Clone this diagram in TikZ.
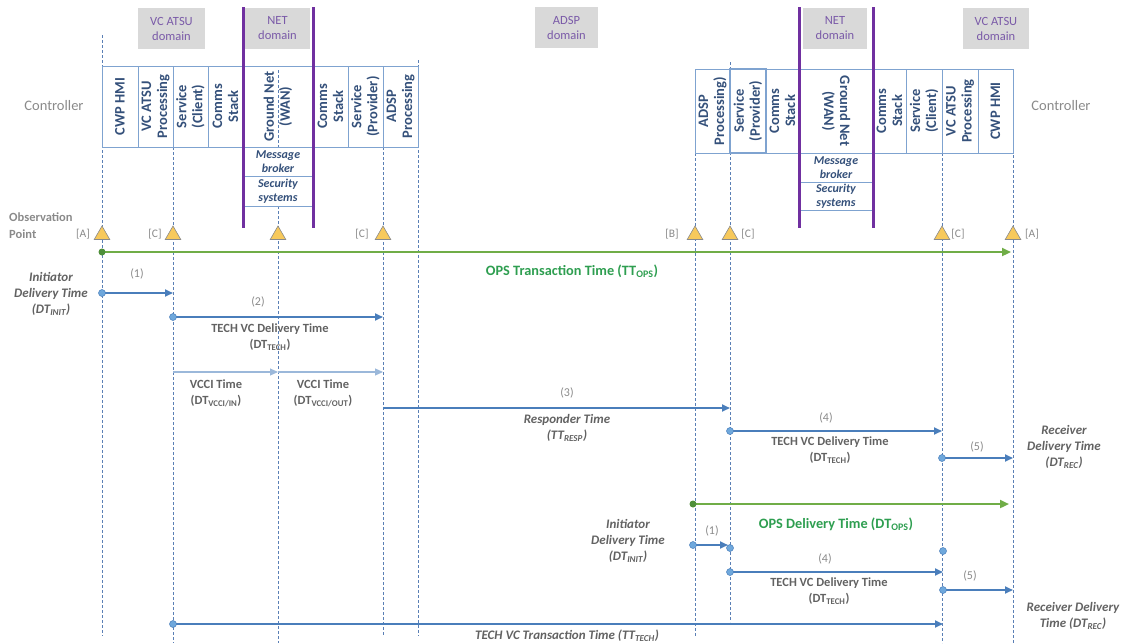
\documentclass[tikz,border=0pt]{standalone}
\usepackage{fontspec}
\setmainfont{Carlito}
\usetikzlibrary{arrows.meta,shapes.geometric}
\definecolor{lifeblue}{HTML}{5A7FB5}
\definecolor{arrblue}{HTML}{4A7EBB}
\definecolor{dotblue}{HTML}{6FA8DC}
\definecolor{opsgreen}{HTML}{70AD47}
\definecolor{opsdot}{HTML}{4E8F3A}
\definecolor{opstext}{HTML}{2E9E50}
\definecolor{netpurple}{HTML}{7030A0}
\definecolor{domtext}{HTML}{7A5AA8}
\definecolor{domfill}{HTML}{D9D9D9}
\definecolor{tabline}{HTML}{7FA3D0}
\definecolor{tabtext}{HTML}{34507A}
\definecolor{lblgray}{HTML}{626262}
\definecolor{ltgray}{HTML}{8A8A8A}
\definecolor{trifill}{HTML}{F7C95C}
\begin{document}
\begin{tikzpicture}[x=1pt,y=-1pt,
  lifeline/.style={draw=lifeblue, dash pattern=on 3pt off 2pt, line width=0.6pt},
  msg/.style={draw=arrblue, line width=1.8pt, -{Triangle[length=8pt,width=7pt]}},
  vcci/.style={draw=arrblue!55, line width=1.1pt, -{Triangle[length=8pt,width=7pt]}},
  opsarr/.style={draw=opsgreen, line width=2.2pt, -{Triangle[length=9pt,width=8pt]}},
  col/.style={draw=tabline, line width=0.8pt, inner sep=0pt, text=tabtext,
     font=\fontsize{14.5}{16}\selectfont\bfseries, align=center},
  broker/.style={draw=tabline, line width=0.8pt, inner sep=0pt, text=tabtext,
     font=\fontsize{12}{13.5}\selectfont\bfseries\itshape, align=center,
     minimum width=70pt},
  dombox/.style={fill=domfill, text=domtext, inner sep=0pt, align=center,
     font=\fontsize{12.5}{15}\selectfont, minimum height=41pt},
  obs/.style={regular polygon, regular polygon sides=3, minimum size=18pt,
     inner sep=0pt, fill=trifill, draw=ltgray, line width=0.6pt},
  obslbl/.style={text=ltgray, font=\fontsize{11.5}{13}\selectfont, inner sep=0pt},
  num/.style={text=ltgray, font=\fontsize{12}{13}\selectfont, inner sep=0pt},
  lbl/.style={text=lblgray, font=\fontsize{12.5}{16}\selectfont\bfseries, align=center, inner sep=0pt},
  ilbl/.style={text=lblgray, font=\fontsize{13}{16}\selectfont\bfseries\itshape, align=center, inner sep=0pt},
  opslbl/.style={text=opstext, font=\fontsize{14.3}{16}\selectfont\bfseries, inner sep=0pt},
  ctrl/.style={text=ltgray, font=\fontsize{14.5}{17}\selectfont, inner sep=0pt},
  bdot/.style={fill=dotblue, draw=arrblue, line width=0.5pt},
  gdot/.style={fill=opsdot}
]
\useasboundingbox (0,0) rectangle (1122,643);

% ---------------- lifelines ----------------
\draw[lifeline] (102,35) coordinate (l1t) -- (102,636) coordinate (l1b);
\draw[lifeline] (173,147) coordinate (l2t) -- (173,643) coordinate (l2b);
\draw[lifeline] (278,70) coordinate (l3t) -- (278,147) coordinate (l3m);
\draw[lifeline] (278,206) coordinate (l3n) -- (278,643) coordinate (l3b);
\draw[lifeline] (383,147) coordinate (l4t) -- (383,636) coordinate (l4b);
\draw[lifeline] (418,60) coordinate (l5t) -- (418,636) coordinate (l5b);
\draw[lifeline] (695,153) coordinate (r1t) -- (695,636) coordinate (r1b);
\draw[lifeline] (730,62) coordinate (r2t) -- (730,622) coordinate (r2b);
\draw[lifeline] (942,153) coordinate (r3t) -- (942,643) coordinate (r3b);
\draw[lifeline] (1013,100) coordinate (r4t) -- (1013,643) coordinate (r4b);

% ---------------- domain boxes ----------------
\node[dombox, minimum width=67pt] (dvcL) at (171.5,28.5) {VC ATSU\\domain};
\node[dombox, minimum width=65pt] (dnetL) at (277.5,28.5) {NET\\domain};
\node[dombox, minimum width=63pt] (dadsp) at (566.5,27.5) {ADSP\\domain};
\node[dombox, minimum width=64pt] (dnetR) at (835,28.5) {NET\\domain};
\node[dombox, minimum width=66pt] (dvcR) at (996,28.5) {VC ATSU\\domain};

% ---------------- left table ----------------
\node[col, rotate=90, minimum width=81pt, minimum height=36pt] (L1) at (120,106.5) {CWP HMI};
\node[col, rotate=90, minimum width=81pt, minimum height=35pt] (L2) at (155.5,106.5) {VC ATSU\\Processing};
\node[col, rotate=90, minimum width=81pt, minimum height=35pt] (L3) at (190.5,106.5) {Service\\(Client)};
\node[col, rotate=90, minimum width=81pt, minimum height=35pt] (L4) at (225.5,106.5) {Comms\\Stack};
\node[col, rotate=90, minimum width=81pt, minimum height=70pt] (L5) at (278,106.5) {Ground Net\\(WAN)};
\node[col, rotate=90, minimum width=81pt, minimum height=35pt] (L6) at (330.5,106.5) {Comms\\Stack};
\node[col, rotate=90, minimum width=81pt, minimum height=35pt] (L7) at (365.5,106.5) {Service\\(Provider)};
\node[col, rotate=90, minimum width=81pt, minimum height=35pt] (L8) at (400.5,106.5) {ADSP\\Processing};
\node[broker, fill=white, minimum height=29pt] (LB1) at (278,161.5) {Message\\broker};
\node[broker, fill=white, minimum height=30pt] (LB2) at (278,191) {Security\\systems};

% ---------------- right table ----------------
\node[col, rotate=90, minimum width=84pt, minimum height=35pt] (R1) at (712.5,111) {ADSP\\Processing)};
\node[col, rotate=90, minimum width=84pt, minimum height=36pt, line width=1.2pt] (R2) at (748,111) {Service\\(Provider)};
\node[col, rotate=90, minimum width=84pt, minimum height=33pt] (R3) at (782.5,111) {Comms\\Stack};
\node[col, rotate=-90, minimum width=84pt, minimum height=74pt] (R4) at (836,111) {Ground Net\\(WAN)};
\node[col, rotate=90, minimum width=84pt, minimum height=33pt] (R5) at (889.5,111) {Comms\\Stack};
\node[col, rotate=90, minimum width=84pt, minimum height=36pt] (R6) at (924,111) {Service\\(Client)};
\node[col, rotate=90, minimum width=84pt, minimum height=36pt] (R7) at (960,111) {VC ATSU\\Processing};
\node[col, rotate=90, minimum width=84pt, minimum height=35pt] (R8) at (995.5,111) {CWP HMI};
\node[broker, fill=white, minimum width=74pt, minimum height=29pt] (RB1) at (836,167.5) {Message\\broker};
\node[broker, fill=white, minimum width=74pt, minimum height=28pt] (RB2) at (836,196) {Security\\systems};

% ---------------- NET purple boundaries ----------------
\draw[netpurple, line width=3pt] (243,7) coordinate (pL1t) -- (243,228) coordinate (pL1b);
\draw[netpurple, line width=3pt] (313,7) coordinate (pL2t) -- (313,228) coordinate (pL2b);
\draw[netpurple, line width=3pt] (799,7) coordinate (pR1t) -- (799,228) coordinate (pR1b);
\draw[netpurple, line width=3pt] (873,7) coordinate (pR2t) -- (873,228) coordinate (pR2b);

% ---------------- Controller labels ----------------
\node[ctrl] (ctrlL) at (54,106) {Controller};
\node[ctrl] (ctrlR) at (1061,106) {Controller};

% ---------------- observation points ----------------
\node[text=ltgray, font=\fontsize{12.5}{17}\selectfont\bfseries, align=left, anchor=west, inner sep=0pt] (obsT) at (9,226) {Observation\\Point};
\node[obs] (o1) at (102,235) {};
\node[obs] (o2) at (173,235) {};
\node[obs] (o3) at (278,235) {};
\node[obs] (o4) at (383,235) {};
\node[obs] (o5) at (695,235) {};
\node[obs] (o6) at (730,235) {};
\node[obs] (o7) at (942,235) {};
\node[obs] (o8) at (1013,235) {};
\node[obslbl] (oA1) at (83,234) {[A]};
\node[obslbl] (oC1) at (155,234) {[C]};
\node[obslbl] (oC2) at (362,234) {[C]};
\node[obslbl] (oB1) at (672,234) {[B]};
\node[obslbl] (oC3) at (748,234) {[C]};
\node[obslbl] (oC4) at (958,234) {[C]};
\node[obslbl] (oA2) at (1032,234) {[A]};

% ---------------- OPS transaction time ----------------
\coordinate (g1s) at (102,252);
\coordinate (g1e) at (1011,252);
\draw[opsarr] (g1s) -- (g1e);
\fill[gdot] (g1s) circle (3.5pt);
\node[opslbl] (g1l) at (572,271) {OPS Transaction Time (TT\textsubscript{OPS})};

% ---------------- (1) initiator ----------------
\coordinate (a1s) at (102,293);
\coordinate (a1e) at (173,293);
\draw[msg] (a1s) -- (a1e);
\fill[bdot] (a1s) circle (3.5pt);
\node[num] (n1) at (137,274) {(1)};
\node[ilbl] (init1) at (51,294) {Initiator\\Delivery Time\\(DT\textsubscript{INIT})};

% ---------------- (2) tech delivery ----------------
\coordinate (a2s) at (173,317);
\coordinate (a2e) at (383,317);
\draw[msg] (a2s) -- (a2e);
\fill[bdot] (a2s) circle (3.5pt);
\node[num] (n2) at (258,302) {(2)};
\node[lbl] (t2) at (270,337) {TECH VC Delivery Time\\(DT\textsubscript{TECH})};

% ---------------- VCCI ----------------
\coordinate (v1s) at (173,372);
\coordinate (v1e) at (278,372);
\coordinate (v2e) at (383,372);
\draw[vcci] (v1s) -- (v1e);
\draw[vcci] (v1e) -- (v2e);
\node[lbl] (vl1) at (216,393) {VCCI Time\\(DT\textsubscript{VCCI/IN})};
\node[lbl] (vl2) at (323,393) {VCCI Time\\(DT\textsubscript{VCCI/OUT})};

% ---------------- (3) responder ----------------
\coordinate (a3s) at (383,408);
\coordinate (a3e) at (730,408);
\draw[msg] (a3s) -- (a3e);
\node[num] (n3) at (567,393) {(3)};
\node[ilbl] (t3) at (567,428) {Responder Time\\(TT\textsubscript{RESP})};

% ---------------- (4) ----------------
\coordinate (a4s) at (730,431);
\coordinate (a4e) at (942,431);
\draw[msg] (a4s) -- (a4e);
\fill[bdot] (a4s) circle (3.5pt);
\node[num] (n4) at (826,418) {(4)};
\node[lbl] (t4) at (830,450) {TECH VC Delivery Time\\(DT\textsubscript{TECH})};

% ---------------- (5) ----------------
\coordinate (a5s) at (942,458);
\coordinate (a5e) at (1013,458);
\draw[msg] (a5s) -- (a5e);
\fill[bdot] (a5s) circle (3.5pt);
\node[num] (n5) at (977,447) {(5)};
\node[ilbl] (t5) at (1064,447) {Receiver\\Delivery Time\\(DT\textsubscript{REC})};

% ---------------- OPS delivery time ----------------
\coordinate (g2s) at (693,504);
\coordinate (g2e) at (1009,504);
\draw[opsarr] (g2s) -- (g2e);
\fill[gdot] (g2s) circle (3.5pt);
\node[opslbl] (g2l) at (836,524) {OPS Delivery Time (DT\textsubscript{OPS})};

% ---------------- lower (1) ----------------
\coordinate (b1s) at (693,545);
\coordinate (b1e) at (728,545);
\draw[msg] (b1s) -- (b1e);
\fill[bdot] (b1s) circle (3.5pt);
\coordinate (b1d) at (730,548);
\fill[bdot] (b1d) circle (3.5pt);
\coordinate (b1f) at (943,551);
\fill[bdot] (b1f) circle (3.5pt);
\node[num] (m1) at (712,531) {(1)};
\node[ilbl] (init2) at (628,541) {Initiator\\Delivery Time\\(DT\textsubscript{INIT})};

% ---------------- lower (4) ----------------
\coordinate (b4s) at (730,572);
\coordinate (b4e) at (943,572);
\draw[msg] (b4s) -- (b4e);
\fill[bdot] (b4s) circle (3.5pt);
\node[num] (m4) at (825,559) {(4)};
\node[lbl] (s4) at (829,591) {TECH VC Delivery Time\\(DT\textsubscript{TECH})};

% ---------------- lower (5) ----------------
\coordinate (b5s) at (943,590);
\coordinate (b5e) at (1013,590);
\draw[msg] (b5s) -- (b5e);
\fill[bdot] (b5s) circle (3.5pt);
\node[num] (m5) at (970,576) {(5)};
\node[ilbl] (s5) at (1073,616) {Receiver Delivery\\Time (DT\textsubscript{REC})};

% ---------------- TECH VC transaction time ----------------
\coordinate (c1s) at (173,624);
\coordinate (c1e) at (943,624);
\draw[msg] (c1s) -- (c1e);
\fill[bdot] (c1s) circle (3.5pt);
\node[ilbl] (c1l) at (567,636) {TECH VC Transaction Time (TT\textsubscript{TECH})};

\end{tikzpicture}
\end{document}
